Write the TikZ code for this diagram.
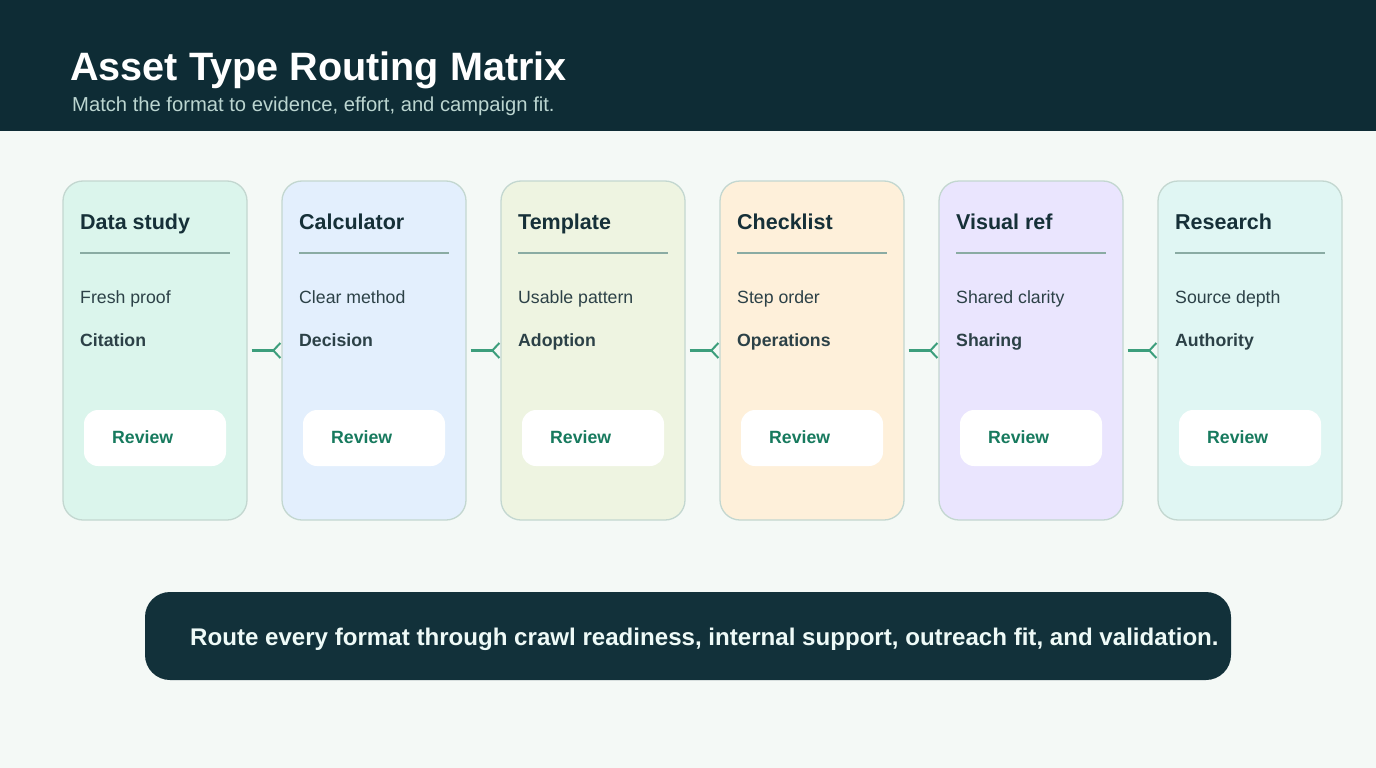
\documentclass[tikz,border=0pt]{standalone}
\usepackage{fontspec}
\setmainfont{Liberation Sans}
\usetikzlibrary{arrows.meta}
\definecolor{bg}{HTML}{F4F9F6}
\definecolor{hdr}{HTML}{0E2C35}
\definecolor{subt}{HTML}{BBD5D0}
\definecolor{cardline}{HTML}{C3D7D0}
\definecolor{rulec}{HTML}{8AABA3}
\definecolor{ttl}{HTML}{163038}
\definecolor{body}{HTML}{2C4147}
\definecolor{green}{HTML}{177A5E}
\definecolor{conn}{HTML}{3C9E7C}
\definecolor{banner}{HTML}{12313A}
\definecolor{bannertext}{HTML}{EEFAF7}
\definecolor{f1}{HTML}{DBF5EC}
\definecolor{f2}{HTML}{E3EFFD}
\definecolor{f3}{HTML}{EEF4E1}
\definecolor{f4}{HTML}{FEF0DA}
\definecolor{f5}{HTML}{EAE5FE}
\definecolor{f6}{HTML}{E0F6F3}
\tikzset{
  card/.style={draw=cardline, line width=1.3pt, rounded corners=20pt, minimum width=184pt, minimum height=339pt, inner sep=0pt},
  reviewbox/.style={fill=white, rounded corners=14pt, minimum width=142pt, minimum height=56pt, inner sep=0pt},
  cardtitle/.style={anchor=base west, inner sep=0pt, text=ttl, font=\fontsize{21.5}{24}\selectfont\bfseries},
  bodytxt/.style={anchor=base west, inner sep=0pt, text=body, font=\fontsize{17.7}{20}\selectfont},
  boldtxt/.style={anchor=base west, inner sep=0pt, text=body, font=\fontsize{17.7}{20}\selectfont\bfseries},
  reviewtxt/.style={anchor=base west, inner sep=0pt, text=green, font=\fontsize{17.7}{20}\selectfont\bfseries},
  connector/.style={draw=conn, line width=3pt, shorten <=4pt, -{Straight Barb[reversed, length=7pt, width=15pt, line width=2pt]}},
}
\begin{document}
\begin{tikzpicture}[x=1pt,y=-1pt]
\useasboundingbox (0,0) rectangle (1376,768);
\fill[bg] (0,0) rectangle (1376,768);
\fill[hdr] (0,0) rectangle (1376,131);
\node[anchor=base west, inner sep=0pt, text=white, font=\fontsize{39.6}{44}\selectfont\bfseries] (title) at (70,80.5) {Asset Type Routing Matrix};
\node[anchor=base west, inner sep=0pt, text=subt, font=\fontsize{20.2}{23}\selectfont] (subtitle) at (72,111) {Match the format to evidence, effort, and campaign fit.};
\foreach \i/\t/\a/\b/\f in {1/Data study/Fresh proof/Citation/f1, 2/Calculator/Clear method/Decision/f2, 3/Template/Usable pattern/Adoption/f3, 4/Checklist/Step order/Operations/f4, 5/Visual ref/Shared clarity/Sharing/f5, 6/Research/Source depth/Authority/f6}{
  \pgfmathsetmacro{\x}{63+219*(\i-1)}
  \node[card, fill=\f] (c\i) at (\x+92,350.5) {};
  \node[cardtitle] (t\i) at (\x+17,229.5) {\t};
  \draw[rulec, line width=1.4pt] (\x+17,253) -- (\x+167,253);
  \node[bodytxt] (a\i) at (\x+17,303.5) {\a};
  \node[boldtxt] (b\i) at (\x+17,346.5) {\b};
  \node[reviewbox] (r\i) at (\x+92,438) {};
  \node[reviewtxt] (rt\i) at (\x+49,443) {Review};
}
\foreach \i [evaluate=\i as \j using int(\i+1)] in {1,...,5}{
  \draw[connector] (c\i.east) -- (c\j.west);
}
\node[fill=banner, rounded corners=25pt, minimum width=1086pt, minimum height=88pt, inner sep=0pt] (banner) at (688,636) {};
\node[anchor=base west, inner sep=0pt, text=bannertext, font=\fontsize{24.1}{27}\selectfont\bfseries] (bannertxt) at (190,645) {Route every format through crawl readiness, internal support, outreach fit, and validation.};
\end{tikzpicture}
\end{document}
